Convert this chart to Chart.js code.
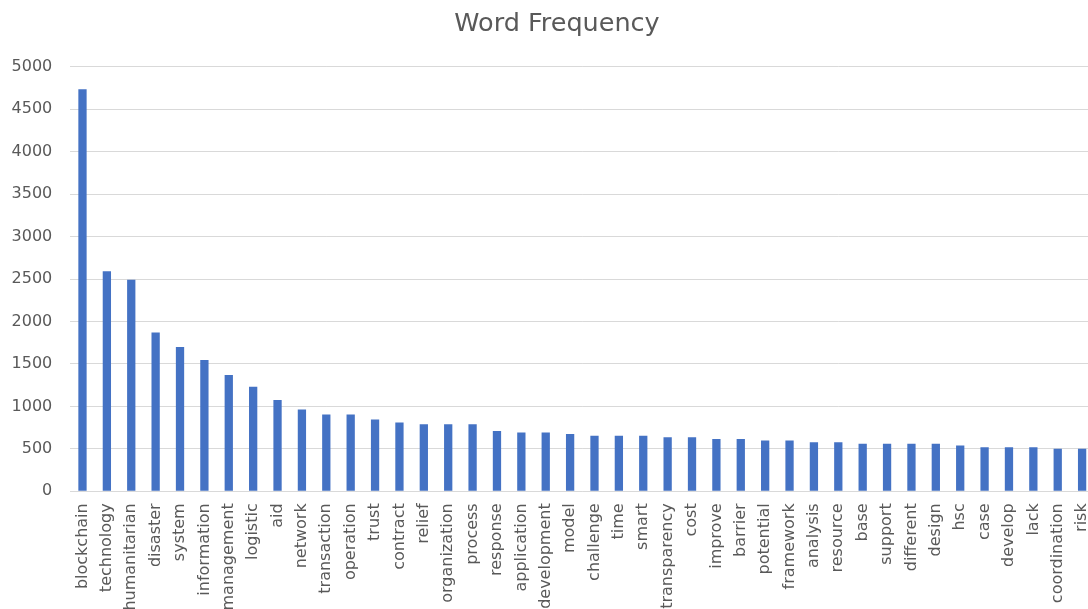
<!DOCTYPE html>
<html>
<head>
<meta charset="utf-8">
<script src="https://cdn.jsdelivr.net/npm/chart.js@4/dist/chart.umd.min.js"></script>
<style>
  html, body { margin: 0; padding: 0; background: #ffffff; overflow: hidden; }
  #frame { position: relative; width: 1088px; height: 609px; overflow: hidden; background: #ffffff; }
  #chart { position: absolute; left: 0; top: 0; }
</style>
</head>
<body>
<div id="frame"><canvas id="chart" width="1114" height="640"></canvas></div>
<script>
// Word counts, most frequent first
const words = [
  "blockchain", "technology", "humanitarian", "disaster", "system", "information",
  "management", "logistic", "aid", "network", "transaction", "operation", "trust",
  "contract", "relief", "organization", "process", "response", "application",
  "development", "model", "challenge", "time", "smart", "transparency", "cost",
  "improve", "barrier", "potential", "framework", "analysis", "resource", "base",
  "support", "different", "design", "hsc", "case", "develop", "lack",
  "coordination", "risk"
];
const frequency = [
  4735, 2590, 2490, 1870, 1700, 1545,
  1370, 1230, 1075, 962, 905, 905, 845,
  810, 790, 790, 790, 710, 692,
  692, 675, 655, 655, 655, 636, 636,
  616, 616, 597, 597, 578, 578, 560,
  560, 560, 560, 538, 518, 518, 518,
  500, 500
];
const yTicks = { min: 0, max: 5000, step: 500 };
const chartTitle = "Word Frequency";

const textColor = "#595959";
const gridColor = "#d9d9d9";
const fontFamily = "'DejaVu Sans', sans-serif";

new Chart(document.getElementById("chart"), {
  type: "bar",
  data: {
    labels: words,
    datasets: [{
      label: "Frequency",
      data: frequency,
      backgroundColor: "#4472c4",
      borderWidth: 0,
      categoryPercentage: 1.0,
      barPercentage: 0.34
    }]
  },
  options: {
    responsive: false,
    animation: false,
    devicePixelRatio: 1,
    layout: { padding: 0 },
    plugins: {
      legend: { display: false },
      tooltip: { enabled: false },
      title: {
        display: true,
        text: chartTitle,
        color: textColor,
        font: { family: fontFamily, size: 25.5, weight: "normal", lineHeight: 1.2 },
        padding: { top: 8.6, bottom: 27.5 }
      }
    },
    scales: {
      x: {
        grid: { display: false, drawTicks: false },
        border: { display: false },
        ticks: {
          color: textColor,
          font: { family: fontFamily, size: 16 },
          minRotation: 90,
          maxRotation: 90,
          autoSkip: false,
          padding: 12
        },
        afterFit: (scale) => { scale.height = 148.7; }
      },
      y: {
        min: yTicks.min,
        max: yTicks.max,
        grid: { color: gridColor, lineWidth: 1, drawTicks: false },
        border: { display: false },
        ticks: {
          stepSize: yTicks.step,
          color: textColor,
          font: { family: fontFamily, size: 16 },
          padding: 18,
          callback: (value) => String(value)
        },
        afterFit: (scale) => { scale.width = 70.3; }
      },
      // empty spacer on the right so the title centres over the full figure
      spacer: {
        type: "linear",
        position: "right",
        display: true,
        grid: { display: false, drawTicks: false },
        border: { display: false },
        ticks: { display: false },
        afterFit: (scale) => { scale.width = 19.7; }
      }
    }
  }
});
</script>
</body>
</html>
